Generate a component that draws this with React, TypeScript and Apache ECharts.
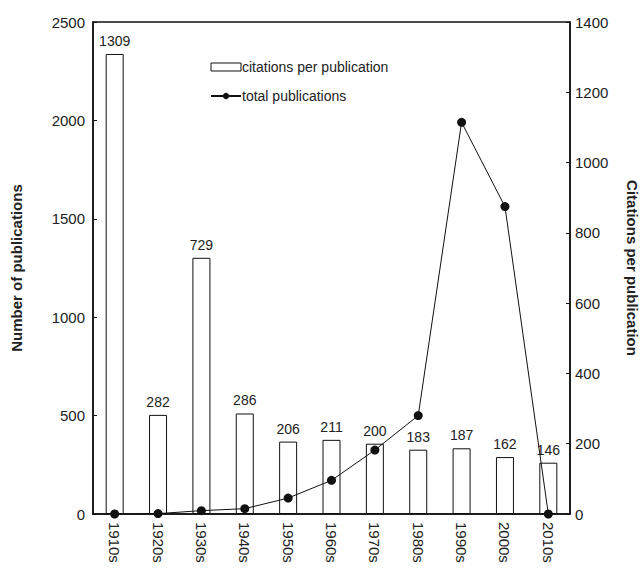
import React, { useEffect, useRef } from "react";
import * as echarts from "echarts";

const categories = ["1910s", "1920s", "1930s", "1940s", "1950s", "1960s", "1970s", "1980s", "1990s", "2000s", "2010s"];
const citationsPerPublication = [1309, 282, 729, 286, 206, 211, 200, 183, 187, 162, 146];
const totalPublications = [0, 2, 17, 27, 81, 171, 325, 500, 1990, 1562, 0];

const FONT = "Liberation Sans, Arial, Helvetica, sans-serif";

export default function App() {
  const ref = useRef<HTMLDivElement>(null);
  useEffect(() => {
    if (!ref.current) return;
    const chart = echarts.init(ref.current, undefined, { renderer: "svg" });
    chart.setOption({
      animation: false,
      backgroundColor: "#ffffff",
      textStyle: { fontFamily: FONT },
      grid: {
        left: 93,
        right: 73,
        top: 22,
        bottom: 59,
        containLabel: false,
        outerBoundsMode: "none",
        show: true,
        borderColor: "#111",
        borderWidth: 1.5,
        backgroundColor: "transparent",
      },
      legend: {
        orient: "vertical",
        left: 205,
        top: 55,
        itemGap: 15,
        itemWidth: 30,
        itemHeight: 8,
        textStyle: { fontFamily: FONT, fontSize: 14, color: "#222", padding: [0, 0, 0, -4] },
        data: [
          { name: "citations per publication", icon: "rect", itemStyle: { color: "#fff", borderColor: "#111", borderWidth: 1 } },
          { name: "total publications" },
        ],
      },
      xAxis: {
        type: "category",
        data: categories,
        axisLine: { lineStyle: { color: "#111", width: 1.5 } },
        axisTick: { show: false },
        axisLabel: { rotate: -90, fontSize: 15, color: "#222", margin: 8, fontFamily: FONT },
      },
      yAxis: [
        {
          type: "value",
          min: 0,
          max: 2500,
          interval: 500,
          name: "Number of publications",
          nameLocation: "middle",
          nameRotate: 90,
          nameGap: 69,
          nameTextStyle: { fontSize: 15, fontWeight: "bold", color: "#222", fontFamily: FONT },
          axisLine: { show: true, lineStyle: { color: "#111", width: 1.5 } },
          axisTick: { show: true, inside: true, length: 4, lineStyle: { color: "#111" } },
          axisLabel: { fontSize: 15, color: "#222", margin: 8, fontFamily: FONT, formatter: (v: number) => String(v) },
          splitLine: { show: false },
        },
        {
          type: "value",
          min: 0,
          max: 1400,
          interval: 200,
          name: "Citations per publication",
          nameLocation: "middle",
          nameRotate: -90,
          nameGap: 55,
          nameTextStyle: { fontSize: 15, fontWeight: "bold", color: "#222", fontFamily: FONT },
          axisLine: { show: true, lineStyle: { color: "#111", width: 1.5 } },
          axisTick: { show: true, inside: true, length: 4, lineStyle: { color: "#111" } },
          axisLabel: { fontSize: 15, color: "#222", margin: 5, fontFamily: FONT, formatter: (v: number) => String(v) },
          splitLine: { show: false },
        },
      ],
      series: [
        {
          name: "citations per publication",
          type: "bar",
          yAxisIndex: 1,
          data: citationsPerPublication,
          barWidth: 18,
          itemStyle: { color: "#ffffff", borderColor: "#111", borderWidth: 1 },
          label: { show: true, position: "top", fontSize: 14, color: "#222", distance: 6, fontFamily: FONT },
        },
        {
          name: "total publications",
          type: "line",
          yAxisIndex: 0,
          data: totalPublications,
          symbol: "circle",
          symbolSize: 9,
          lineStyle: { color: "#111", width: 1 },
          itemStyle: { color: "#111" },
          z: 5,
        },
      ],
    });
    return () => chart.dispose();
  }, []);
  return <div ref={ref} style={{ position: "absolute", left: 0, top: 0, width: 643, height: 573 }} />;
}
